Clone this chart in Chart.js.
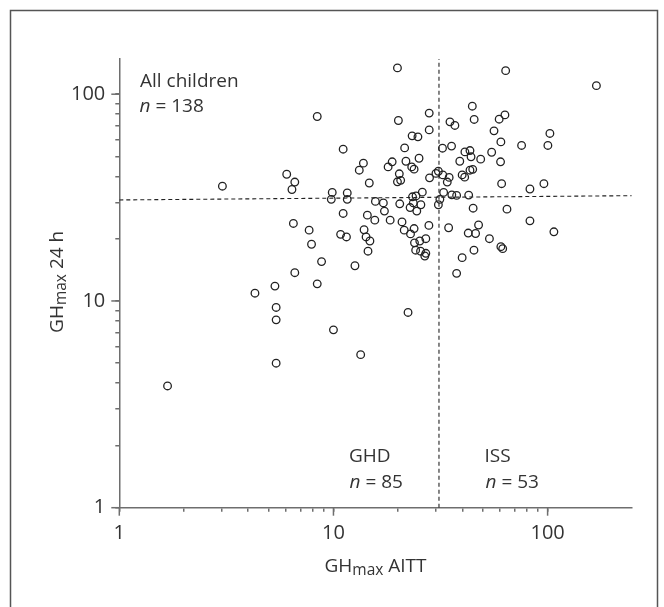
<!DOCTYPE html>
<html>
<head>
<meta charset="utf-8">
<script src="https://cdn.jsdelivr.net/npm/chart.js@4.4.1/dist/chart.umd.min.js"></script>
<style>
  html, body { margin: 0; padding: 0; background: #fff; }
  canvas { display: block; }
</style>
</head>
<body>
<canvas id="scatterChart" width="664" height="607"></canvas>
<script>
// GHmax AITT (x) and GHmax 24 h (y) per child
const aittValues = [
  19.9, 63.7, 169, 8.4, 20.1, 28.0, 28.0, 35.0, 36.9, 44.5,
  45.4, 59.4, 63.2, 56.2, 102.5, 23.3, 24.8, 11.1, 21.5, 32.3,
  35.6, 41.1, 43.4, 43.9, 48.7, 54.8, 60.5, 75.6, 100.3, 38.9,
  60.3, 25.1, 18.8, 18.0, 21.8, 23.2, 23.8, 13.8, 13.2, 20.3,
  19.9, 20.6, 14.7, 28.1, 30.1, 30.9, 32.4, 34.7, 34.0, 39.9,
  41.0, 43.4, 44.7, 61.0, 82.7, 96.1, 6.6, 6.4, 6.05, 3.03,
  26.0, 32.7, 35.7, 37.6, 42.8, 23.4, 24.3, 31.4, 9.87, 9.77,
  11.6, 11.6, 15.7, 17.1, 20.4, 23.6, 25.6, 22.8, 24.5, 30.9,
  44.9, 64.6, 11.1, 14.4, 17.3, 15.6, 18.4, 20.9, 6.5, 7.7,
  13.9, 21.4, 22.9, 23.8, 27.9, 34.5, 42.6, 46.1, 47.6, 82.7,
  107, 10.8, 11.5, 14.2, 14.8, 7.9, 23.9, 25.3, 27.0, 24.2,
  25.5, 27.0, 26.7, 14.5, 45.3, 53.5, 60.5, 61.7, 8.8, 12.6,
  39.9, 37.6, 6.6, 8.4, 22.3, 10.0, 13.4, 5.33, 4.3, 5.4,
  5.4, 5.4, 1.68
];
const dayValues = [
  134, 130, 110, 78, 74.6, 81, 67.2, 73.5, 70.6, 87.5,
  75.5, 75.7, 79.4, 66.5, 64.6, 62.9, 62.2, 54.2, 55.0, 54.8,
  56.1, 52.6, 53.4, 49.8, 48.5, 52.4, 58.8, 56.5, 56.5, 47.4,
  47.1, 49.0, 47.1, 44.5, 47.4, 44.5, 43.4, 46.4, 42.9, 41.2,
  37.7, 38.3, 37.2, 39.4, 41.4, 42.4, 40.7, 39.6, 37.6, 40.7,
  39.7, 42.9, 43.3, 36.9, 34.8, 36.9, 37.6, 34.6, 41.0, 35.9,
  33.6, 33.5, 32.6, 32.4, 32.5, 31.9, 32.2, 31.0, 33.5, 31.0,
  33.3, 31.0, 30.3, 29.8, 29.5, 29.8, 29.2, 28.3, 27.2, 29.2,
  28.1, 27.8, 26.5, 26.0, 27.2, 24.6, 24.6, 24.1, 23.7, 22.0,
  22.1, 22.0, 21.1, 22.4, 23.2, 22.6, 21.3, 21.2, 23.3, 24.4,
  21.6, 21.0, 20.4, 20.4, 19.5, 18.8, 19.1, 19.5, 20.0, 17.6,
  17.4, 17.0, 16.5, 17.4, 17.6, 20.0, 18.3, 17.9, 15.5, 14.8,
  16.2, 13.6, 13.7, 12.1, 8.8, 7.25, 5.5, 11.8, 10.9, 9.3,
  8.1, 5.0, 3.88
];

// cut-off lines
const cutoffLineX = [1, 247];
const cutoffLineY = [30.8, 32.3];
const aittCutX = [31.1, 31.1];
const aittCutY = [1, 148];

const xTickValues = [1, 2, 3, 4, 5, 6, 7, 8, 9, 10, 20, 30, 40, 50, 60, 70, 80, 90, 100];
const yTickValues = [1, 2, 3, 4, 5, 6, 7, 8, 9, 10, 20, 30, 40, 50, 60, 70, 80, 90, 100];
const labeledTicks = [1, 10, 100];

const FONT = '"Open Sans", "Noto Sans", sans-serif';
const TEXT = "#333333";
const AXIS = "#6e6e6e";

function toPoints(xs, ys) {
  return xs.map((x, i) => ({ x, y: ys[i] }));
}

function setTicks(values) {
  return (scale) => {
    scale.ticks = values.map((value) => ({ value, major: labeledTicks.includes(value) }));
  };
}

function tickLabel(value) {
  return labeledTicks.includes(value) ? String(value) : "";
}

// longer ticks at the decades
const majorTicks = {
  id: "majorTicks",
  afterDraw(chart) {
    const { ctx, scales: { x, y }, chartArea } = chart;
    ctx.save();
    ctx.strokeStyle = AXIS;
    ctx.lineWidth = 1.5;
    labeledTicks.forEach((value) => {
      const px = x.getPixelForValue(value);
      ctx.beginPath();
      ctx.moveTo(px, chartArea.bottom);
      ctx.lineTo(px, chartArea.bottom + 8);
      ctx.stroke();
      const py = y.getPixelForValue(value);
      ctx.beginPath();
      ctx.moveTo(chartArea.left, py);
      ctx.lineTo(chartArea.left - 8, py);
      ctx.stroke();
    });
    ctx.restore();
  }
};

function drawSubscripted(ctx, main, sub, rest, x, y) {
  const mainFont = `19px ${FONT}`;
  const subFont = `15.5px ${FONT}`;
  ctx.font = mainFont;
  const w1 = ctx.measureText(main).width;
  const w3 = ctx.measureText(rest).width;
  ctx.font = subFont;
  const w2 = ctx.measureText(sub).width;
  let cx = x - (w1 + w2 + w3) / 2;
  ctx.font = mainFont;
  ctx.fillText(main, cx, y);
  cx += w1;
  ctx.font = subFont;
  ctx.fillText(sub, cx, y + 3);
  cx += w2;
  ctx.font = mainFont;
  ctx.fillText(rest, cx, y);
}

function drawCount(ctx, count, x, y) {
  ctx.font = `italic 19px ${FONT}`;
  ctx.fillText("n", x, y);
  const w = ctx.measureText("n").width;
  ctx.font = `19px ${FONT}`;
  ctx.fillText(" = " + count, x + w, y);
}

const annotations = {
  id: "annotations",
  beforeDraw(chart) {
    const { ctx } = chart;
    ctx.save();
    ctx.strokeStyle = "#555555";
    ctx.lineWidth = 1.5;
    ctx.beginPath();
    ctx.moveTo(10.5, chart.height);
    ctx.lineTo(10.5, 10.5);
    ctx.lineTo(657.5, 10.5);
    ctx.lineTo(657.5, chart.height);
    ctx.stroke();
    ctx.restore();
  },
  afterDraw(chart) {
    const { ctx, chartArea } = chart;
    ctx.save();
    ctx.fillStyle = TEXT;
    ctx.textBaseline = "alphabetic";
    ctx.textAlign = "left";

    ctx.font = `19px ${FONT}`;
    ctx.fillText("All children", 140, 86.7);
    drawCount(ctx, 138, 139.5, 111.7);

    ctx.font = `19px ${FONT}`;
    ctx.fillText("GHD", 349, 461.7);
    drawCount(ctx, 85, 349.5, 488.3);
    ctx.font = `19px ${FONT}`;
    ctx.fillText("ISS", 484.5, 461.7);
    drawCount(ctx, 53, 485.5, 488.3);

    const midX = (chartArea.left + chartArea.right) / 2;
    drawSubscripted(ctx, "GH", "max", " AITT", midX, 572);

    ctx.translate(63.3, (chartArea.top + chartArea.bottom) / 2 - 1.5);
    ctx.rotate(-Math.PI / 2);
    drawSubscripted(ctx, "GH", "max", " 24 h", 0, 0);
    ctx.restore();
  }
};

const axisBase = {
  type: "logarithmic",
  border: { display: true, color: AXIS, width: 1.5 },
  grid: { drawOnChartArea: false, drawTicks: true, tickLength: 4, color: AXIS, tickColor: AXIS, lineWidth: 1.5 },
  ticks: {
    autoSkip: false,
    maxRotation: 0,
    color: TEXT,
    font: { family: FONT, size: 20 },
    callback: tickLabel
  }
};

new Chart(document.getElementById("scatterChart"), {
  type: "scatter",
  data: {
    datasets: [
      {
        data: toPoints(aittValues, dayValues),
        pointRadius: 3.8,
        borderWidth: 1.3,
        borderColor: "#222222",
        backgroundColor: "rgba(255,255,255,0)",
        showLine: false
      },
      {
        data: toPoints(cutoffLineX, cutoffLineY),
        showLine: true,
        pointRadius: 0,
        borderColor: "#222222",
        borderWidth: 1.1,
        borderDash: [4, 3]
      },
      {
        data: toPoints(aittCutX, aittCutY),
        showLine: true,
        pointRadius: 0,
        borderColor: "#222222",
        borderWidth: 1.1,
        borderDash: [4, 3]
      }
    ]
  },
  options: {
    responsive: false,
    animation: false,
    layout: { padding: { left: 0, top: 59, right: 32.3, bottom: 0 } },
    plugins: { legend: { display: false }, tooltip: { enabled: false } },
    scales: {
      x: {
        ...axisBase,
        min: 1,
        max: 247,
        ticks: { ...axisBase.ticks, padding: 10 },
        afterBuildTicks: setTicks(xTickValues),
        afterFit(scale) { scale.height = 99.3; }
      },
      y: {
        ...axisBase,
        min: 1,
        max: 148,
        ticks: { ...axisBase.ticks, padding: 10 },
        afterBuildTicks: setTicks(yTickValues),
        afterFit(scale) { scale.width = 119.3; }
      }
    }
  },
  plugins: [annotations, majorTicks]
});
</script>
</body>
</html>
